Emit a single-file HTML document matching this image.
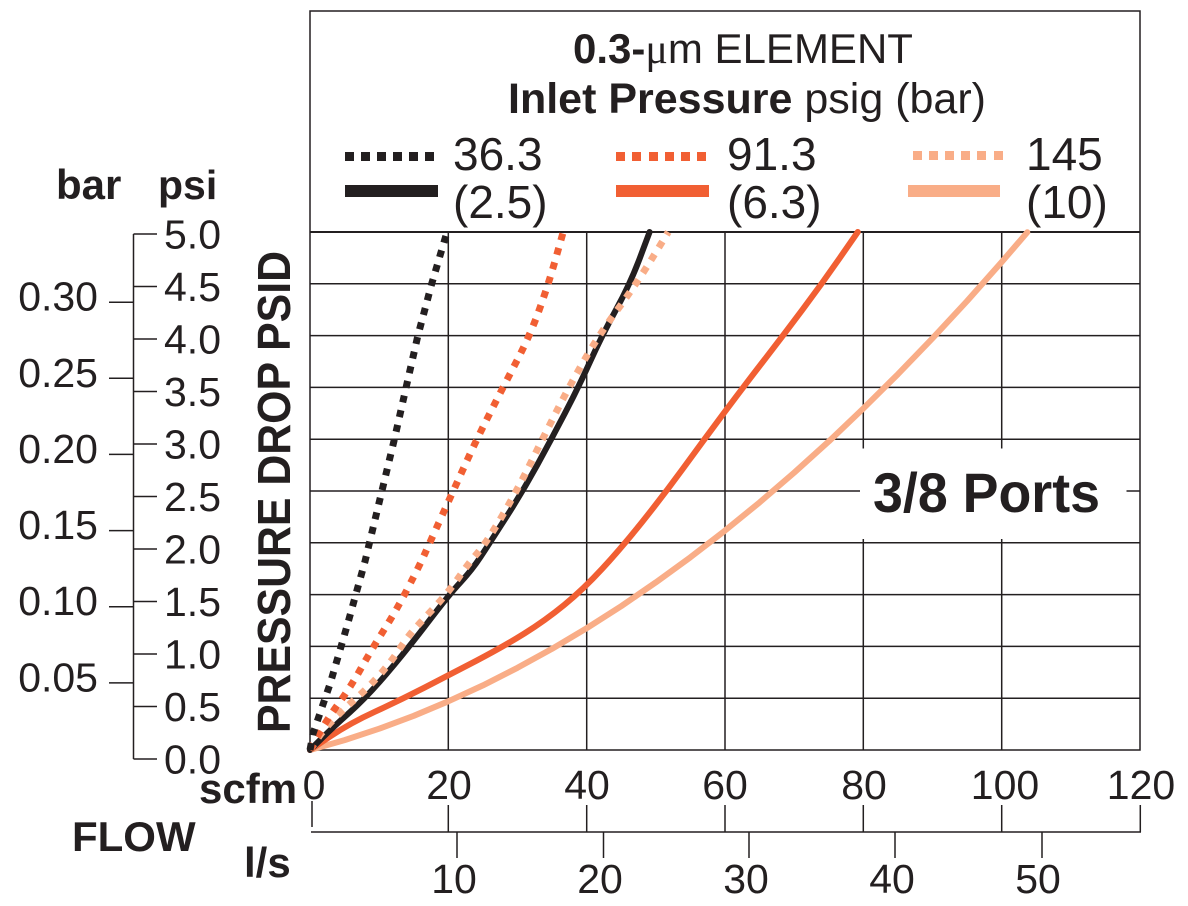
<!DOCTYPE html>
<html><head><meta charset="utf-8"><style>
html,body{margin:0;padding:0;background:#fff;}
svg{display:block;}
text{font-family:"Liberation Sans",Arial,sans-serif;fill:#231f20;}
</style></head><body>
<svg width="1188" height="906" viewBox="0 0 1188 906" xmlns="http://www.w3.org/2000/svg">
<rect width="1188" height="906" fill="#fff"/>
<!-- grid -->
<g stroke="#231f20" stroke-width="1.5" fill="none">
<line x1="310" y1="698.2" x2="1140" y2="698.2"/>
<line x1="310" y1="646.4" x2="1140" y2="646.4"/>
<line x1="310" y1="594.6" x2="1140" y2="594.6"/>
<line x1="310" y1="542.8" x2="1140" y2="542.8"/>
<line x1="310" y1="491.0" x2="1140" y2="491.0"/>
<line x1="310" y1="439.2" x2="1140" y2="439.2"/>
<line x1="310" y1="387.4" x2="1140" y2="387.4"/>
<line x1="310" y1="335.6" x2="1140" y2="335.6"/>
<line x1="310" y1="283.8" x2="1140" y2="283.8"/>
<line x1="448.3" y1="232" x2="448.3" y2="750"/>
<line x1="586.7" y1="232" x2="586.7" y2="750"/>
<line x1="725" y1="232" x2="725" y2="750"/>
<line x1="863.3" y1="232" x2="863.3" y2="750"/>
<line x1="1001.7" y1="232" x2="1001.7" y2="750"/>
<rect x="310" y="11" width="830" height="739"/>
<line x1="310" y1="232" x2="1140" y2="232" stroke-width="2"/>
</g>
<!-- 3/8 Ports box -->
<rect x="860" y="448.5" width="266.5" height="90.5" fill="#fff"/>
<text x="873" y="512" font-size="56" font-weight="bold" textLength="227" lengthAdjust="spacingAndGlyphs">3/8 Ports</text>

<!-- curves solid -->
<g fill="none" stroke-width="6" stroke-linejoin="round" stroke-linecap="round">
<polyline stroke="#f9ad87" points="310,750 344.6,740.1 379.2,728.7 413.8,715.8 448.3,701.3 482.9,685.4 517.5,667.8 552.1,648.8 586.7,628.2 621.3,606.1 655.8,582.4 690.4,557.3 725,530.6 759.6,502.4 794.2,472.6 828.8,441.4 863.3,408.5 897.9,374.2 932.5,338.3 967.1,301 1001.7,262 1027.3,232.3"/>
<path stroke="#f15f33" d="M310,750 L330.05,736.55 Q350.1,723.1 375,711.7 Q399.9,700.3 424.1,687.85 Q448.3,675.4 476,660.9 Q503.7,646.4 524.45,633.45 Q545.2,620.5 564.2,604.95 Q583.2,589.4 602.25,568.7 Q621.3,548 642.05,522.1 Q662.8,496.2 682.85,468.75 Q702.9,441.3 722.95,414.35 Q743,387.4 763.05,361.5 Q783.1,335.6 802.45,309.7 Q821.8,283.8 839.8,257.9 L857.8,232"/>
<path stroke="#231f20" d="M310,750 L321.75,738.35 Q333.5,726.7 350.1,711.95 Q366.7,697.2 386.75,673.6 Q406.8,650 427.9,622.3 Q449,594.6 460.5,582.3 Q472,570 480.9,556.4 Q489.8,542.8 506.4,516.9 Q523,491 537.2,465.1 Q551.4,439.2 564.9,413.3 Q578.4,387.4 590.15,361.5 Q601.9,335.6 616.05,309.7 Q630.2,283.8 639.9,257.9 L649.6,232"/>
</g>
<!-- curves dotted -->
<g fill="none" stroke-width="7" stroke-dasharray="7 8" stroke-linejoin="round">
<path stroke="#f9ad87" d="M310,750 L316.55,740.15 Q323.1,730.3 333.15,719.95 Q343.2,709.6 355.65,698.7 Q368.1,687.8 379.15,675.4 Q390.2,663 398.5,650.55 Q406.8,638.1 411.65,632.4 Q416.5,626.7 432.4,609.6 Q448.3,592.5 458.35,578 Q468.4,563.5 477.4,553.15 Q486.4,542.8 501.6,516.9 Q516.8,491 529.6,465.1 Q542.4,439.2 555.55,413.3 Q568.7,387.4 583.55,361.5 Q598.4,335.6 617.45,309.7 Q636.5,283.8 652.4,257.9 L668.3,232"/>
<path stroke="#f15f33" d="M310,750 L318.3,735 Q326.6,720 338.35,703.9 Q350.1,687.8 360.85,668.65 Q371.6,649.5 384.05,629.8 Q396.5,610.1 408.25,587.35 Q420,564.6 424.85,553.7 Q429.7,542.8 441.45,516.9 Q453.2,491 464.95,465.1 Q476.7,439.2 489.85,413.3 Q503,387.4 516.5,361.5 Q530,335.6 539.3,309.7 Q548.6,283.8 555.9,257.9 L563.2,232"/>
<polyline stroke="#231f20" points="310,750 313.1,733.4 330.1,683.7 339.3,652.6 348.3,621.5 365,561.4 381.9,491 394.4,439.2 406.1,387.4 417.9,335.6 431.7,283.8 447,232"/>
</g>

<!-- title -->
<text x="573" y="63" font-size="42"><tspan font-weight="bold">0.3-</tspan><tspan font-family="Liberation Serif,serif">μ</tspan>m ELEMENT</text>
<text x="508" y="113" font-size="43"><tspan font-weight="bold">Inlet Pressure</tspan> psig (bar)</text>

<!-- legend -->
<g fill="#231f20">
<rect x="345" y="152" width="9" height="9"/><rect x="361" y="152" width="9" height="9"/><rect x="377" y="152" width="9" height="9"/><rect x="393" y="152" width="9" height="9"/><rect x="409" y="152" width="9" height="9"/><rect x="425" y="152" width="9" height="9"/>
<rect x="345" y="185" width="93" height="12"/>
</g>
<g fill="#f15f33">
<rect x="616" y="152" width="9" height="9"/><rect x="632" y="152" width="9" height="9"/><rect x="649" y="152" width="9" height="9"/><rect x="665" y="152" width="9" height="9"/><rect x="681" y="152" width="9" height="9"/><rect x="697" y="152" width="9" height="9"/>
<rect x="616" y="185" width="93" height="12"/>
</g>
<g fill="#f9ad87">
<rect x="913" y="151" width="9" height="9"/><rect x="929" y="151" width="9" height="9"/><rect x="945" y="151" width="9" height="9"/><rect x="961" y="151" width="9" height="9"/><rect x="977" y="151" width="9" height="9"/><rect x="994" y="151" width="9" height="9"/>
<rect x="908" y="185" width="92" height="12"/>
</g>
<g font-size="46">
<text x="453" y="170">36.3</text>
<text x="453" y="218">(2.5)</text>
<text x="727" y="170">91.3</text>
<text x="727" y="218">(6.3)</text>
<text x="1026" y="170">145</text>
<text x="1026" y="218">(10)</text>
</g>

<!-- left axes -->
<text x="56" y="199" font-size="42" font-weight="bold">bar</text>
<text x="158" y="199" font-size="41" font-weight="bold">psi</text>
<g stroke="#231f20" stroke-width="1.5">
<line x1="133.5" y1="234" x2="133.5" y2="759"/>
<line x1="133.5" y1="759" x2="157" y2="759"/>
<line x1="133.5" y1="706.5" x2="157" y2="706.5"/>
<line x1="133.5" y1="654" x2="157" y2="654"/>
<line x1="133.5" y1="601.5" x2="157" y2="601.5"/>
<line x1="133.5" y1="549" x2="157" y2="549"/>
<line x1="133.5" y1="496.5" x2="157" y2="496.5"/>
<line x1="133.5" y1="444" x2="157" y2="444"/>
<line x1="133.5" y1="391.5" x2="157" y2="391.5"/>
<line x1="133.5" y1="339" x2="157" y2="339"/>
<line x1="133.5" y1="286.5" x2="157" y2="286.5"/>
<line x1="133.5" y1="234" x2="157" y2="234"/>
<line x1="109" y1="682.9" x2="133.5" y2="682.9"/>
<line x1="109" y1="606.7" x2="133.5" y2="606.7"/>
<line x1="109" y1="530.6" x2="133.5" y2="530.6"/>
<line x1="109" y1="454.4" x2="133.5" y2="454.4"/>
<line x1="109" y1="378.3" x2="133.5" y2="378.3"/>
<line x1="109" y1="302.2" x2="133.5" y2="302.2"/>
</g>
<g font-size="41">
<text x="164" y="773.5">0.0</text>
<text x="164" y="721">0.5</text>
<text x="164" y="668.5">1.0</text>
<text x="164" y="616">1.5</text>
<text x="164" y="563.5">2.0</text>
<text x="164" y="511">2.5</text>
<text x="164" y="458.5">3.0</text>
<text x="164" y="406">3.5</text>
<text x="164" y="353.5">4.0</text>
<text x="164" y="301">4.5</text>
<text x="164" y="248.5">5.0</text>
</g>
<g font-size="41" text-anchor="end">
<text x="98" y="691.4">0.05</text>
<text x="98" y="615.2">0.10</text>
<text x="98" y="539.1">0.15</text>
<text x="98" y="462.9">0.20</text>
<text x="98" y="386.8">0.25</text>
<text x="98" y="310.7">0.30</text>
</g>
<text transform="translate(290,492) rotate(-90)" text-anchor="middle" font-size="46" font-weight="bold" textLength="482" lengthAdjust="spacingAndGlyphs">PRESSURE DROP PSID</text>

<!-- bottom axes -->
<g stroke="#231f20" stroke-width="1.5">
<line x1="311" y1="832" x2="1141" y2="832"/>
<line x1="312" y1="801" x2="312" y2="827"/>
<line x1="448.3" y1="805" x2="448.3" y2="832"/>
<line x1="586.7" y1="805" x2="586.7" y2="832"/>
<line x1="725" y1="805" x2="725" y2="832"/>
<line x1="863.3" y1="805" x2="863.3" y2="832"/>
<line x1="1001.7" y1="805" x2="1001.7" y2="832"/>
<line x1="1140.3" y1="805" x2="1140.3" y2="832"/>
<line x1="457" y1="832" x2="457" y2="858"/>
<line x1="603.5" y1="832" x2="603.5" y2="858"/>
<line x1="749" y1="832" x2="749" y2="858"/>
<line x1="895" y1="832" x2="895" y2="858"/>
<line x1="1042" y1="832" x2="1042" y2="858"/>
</g>
<g font-size="41" text-anchor="middle">
<text x="314" y="799">0</text>
<text x="449" y="799">20</text>
<text x="587" y="799">40</text>
<text x="725" y="799">60</text>
<text x="864" y="799">80</text>
<text x="1005" y="799">100</text>
<text x="1141" y="799">120</text>
<text x="454" y="893">10</text>
<text x="600" y="893">20</text>
<text x="746" y="893">30</text>
<text x="892" y="893">40</text>
<text x="1038" y="893">50</text>
</g>
<text x="199" y="803" font-size="42" font-weight="bold">scfm</text>
<text x="72" y="851" font-size="42" font-weight="bold">FLOW</text>
<text x="244" y="877" font-size="42" font-weight="bold">l/s</text>
</svg>
</body></html>
